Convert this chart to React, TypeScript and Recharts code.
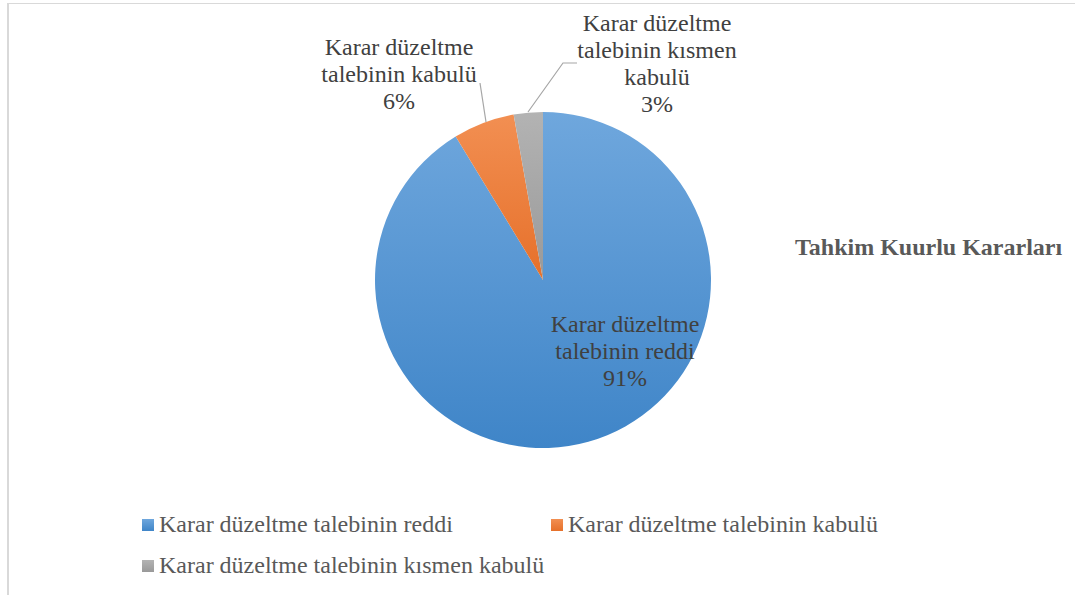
import { Cell, Legend, Pie, PieChart } from 'recharts'

const CATEGORIES = [
  'Karar düzeltme talebinin reddi',
  'Karar düzeltme talebinin kabulü',
  'Karar düzeltme talebinin kısmen kabulü',
]
const SHARES = [91.3, 5.9, 2.8]
const LABEL_LINES = [
  ['Karar düzeltme', 'talebinin reddi'],
  ['Karar düzeltme', 'talebinin kabulü'],
  ['Karar düzeltme', 'talebinin kısmen', 'kabulü'],
]
const TITLE = 'Tahkim Kuurlu Kararları'

const COLORS = [
  { top: '#6fa7dd', bottom: '#3f85c8' },
  { top: '#f28f52', bottom: '#e6702a' },
  { top: '#b3b3b3', bottom: '#999999' },
]

const CX = 543
const CY = 280
const RADIUS = 168
const FONT = '"Liberation Serif", "Times New Roman", serif'
const LINE_GAP = 27

// label anchor (relative to centre) and optional leader line, per slice
const LABEL_LAYOUT = [
  { dx: 82, dy: 52, leader: null as number[][] | null },
  { dx: -144, dy: -225, leader: [[-63, -197], [-57, -158]] },
  { dx: 114, dy: -249, leader: [[-15, -168], [20, -217], [34, -217]] },
]

const data = CATEGORIES.map((name, i) => ({ name, value: SHARES[i] }))
const total = SHARES.reduce((sum, v) => sum + v, 0)

function renderLabel(props: any) {
  const index: number = props.index
  const layout = LABEL_LAYOUT[index]
  const pct = `${Math.round((data[index].value / total) * 100)}%`
  const lines = [...LABEL_LINES[index], pct]
  const x = CX + layout.dx
  return (
    <g key={`label-${index}`}>
      {layout.leader && (
        <polyline
          points={layout.leader.map(([px, py]) => `${CX + px},${CY + py}`).join(' ')}
          fill="none"
          stroke="#a6a6a6"
          strokeWidth={1.2}
        />
      )}
      <text x={x} y={CY + layout.dy} textAnchor="middle" fill="#404040" fontFamily={FONT} fontSize={24}>
        {lines.map((line, i) => (
          <tspan key={i} x={x} dy={i === 0 ? 0 : LINE_GAP}>
            {line}
          </tspan>
        ))}
      </text>
    </g>
  )
}

function LegendContent() {
  const spots = [
    { left: 142, top: 512 },
    { left: 551, top: 512 },
    { left: 142, top: 553 },
  ]
  return (
    <div style={{ position: 'relative', width: 1075, height: 80 }}>
      {CATEGORIES.map((name, i) => (
        <div
          key={name}
          style={{
            position: 'absolute',
            left: spots[i].left,
            top: spots[i].top - 500,
            display: 'flex',
            alignItems: 'center',
            whiteSpace: 'nowrap',
            fontFamily: FONT,
            fontSize: 24,
            lineHeight: '24px',
            color: '#595959',
          }}
        >
          <span
            style={{
              display: 'inline-block',
              width: 12,
              height: 12,
              marginRight: 5,
              marginTop: 1,
              background: `linear-gradient(${COLORS[i].top}, ${COLORS[i].bottom})`,
            }}
          />
          {name}
        </div>
      ))}
    </div>
  )
}

export default function App() {
  return (
    <div
      style={{
        position: 'absolute',
        left: 0,
        top: 0,
        width: 1075,
        height: 595,
        overflow: 'hidden',
        background: '#ffffff',
      }}
    >
      <style>{`.recharts-pie-sectors { filter: drop-shadow(2px 3px 3px rgba(0,0,0,0.28)); }`}</style>
      <div
        style={{
          position: 'absolute',
          left: 7,
          top: 3,
          width: 1200,
          height: 800,
          borderTop: '1px solid #d9d9d9',
          borderLeft: '2px solid #d9d9d9',
        }}
      />
      <div style={{ position: 'absolute', left: 0, top: 0 }}>
        <PieChart width={1075} height={595} margin={{ top: 0, right: 0, bottom: 0, left: 0 }}>
          <defs>
            {COLORS.map((c, i) => (
              <linearGradient key={i} id={`slice-${i}`} x1="0" x2="0" y1="0" y2="1">
                <stop offset="0%" stopColor={c.top} />
                <stop offset="100%" stopColor={c.bottom} />
              </linearGradient>
            ))}
          </defs>
          <Pie
            data={data}
            dataKey="value"
            nameKey="name"
            cx={CX}
            cy={CY}
            outerRadius={RADIUS}
            startAngle={90}
            endAngle={-270}
            stroke="none"
            label={renderLabel}
            labelLine={false}
            isAnimationActive={false}
          >
            {data.map((entry, i) => (
              <Cell key={entry.name} fill={`url(#slice-${i})`} />
            ))}
          </Pie>
          <Legend
            content={() => <LegendContent />}
            wrapperStyle={{ position: 'absolute', left: 0, top: 500, width: 1075, height: 80 }}
          />
        </PieChart>
      </div>
      <div
        style={{
          position: 'absolute',
          left: 795,
          top: 235,
          fontFamily: FONT,
          fontSize: 24,
          lineHeight: '24px',
          fontWeight: 'bold',
          color: '#595959',
          whiteSpace: 'nowrap',
        }}
      >
        {TITLE}
      </div>
    </div>
  )
}
